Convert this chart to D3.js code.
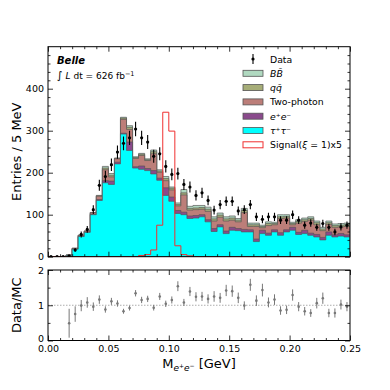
<!DOCTYPE html>
<html><head><meta charset="utf-8">
<script src="https://cdn.jsdelivr.net/npm/d3@7"></script>
<style>body{margin:0;background:#fff} text{font-family:"DejaVu Sans",sans-serif}</style>
</head><body><svg id="c" width="390" height="390"></svg>
<script>
// ---- data (50 bins of 5 MeV from 0 to 0.25 GeV) ----
const binEdges = d3.range(51).map(i => +(i * 0.005).toFixed(3));
const tautau = [0,0,0,3,18,48,58,100,134,176, 172,221,292,253,211,208,205,197,182,146, 132,103,100,91,92,95,83,60,71,55, 63,62,59,59,36,55,51,59,51,59, 63,53,55,51,47,40,51,47,49,47];
const eeBg   = [0,0,0,0,0,0,0,1,2,5, 8,4,2,20,3,8,5,8,5,18, 10,7,6,6,6,5,5,7,5,6, 7,5,6,5,6,8,5,5,6,5, 7,5,8,5,6,6,8,5,6,5];
const twoPhoton = [0,0,0,1,2,3,3,4,8,26, 10,8,33,30,20,25,19,40,14,17, 17,11,41,14,14,13,20,18,18,24, 17,16,40,8,30,6,18,12,34,28, 6,22,21,31,23,16,18,18,16,20];
const qqBg   = [0,0,0,0,0,0,0,0,1,4, 4,1,3,5,2,3,2,5,3,5, 4,3,5,4,4,4,5,5,5,5, 5,4,5,4,4,3,5,3,4,4, 3,4,4,4,5,4,4,4,4,4];
const bbBg   = [0,0,0,0,0,0,0,0,1,4, 4,1,2,4,2,2,2,4,3,5, 3,4,8,5,6,5,5,5,5,5, 5,4,5,4,4,3,4,3,5,4, 3,4,4,4,4,4,4,4,4,4];
const signal5x = [0,0,0,0,0,0,0,0,0,0, 0,0,0,0,0,3,5,16,75,344, 299,26,5,2,0,0,0,0,0,0, 0,0,0,0,0,0,0,0,0,0, 0,0,0,0,0,0,0,0,0,0];
const dataCounts = [0,0,0,2,16,53,65,112,170,191, 219,249,270,283,304,283,273,239,245,215, 196,198,172,166,146,152,134,111,124,132, 132,109,112,124,95,89,95,95,87,87, 100,87,75,80,70,79,70,59,71,75];
const ratio = [null,null,null,0.49,0.75,0.99,1.08,0.96,1.16,0.88, 1.11,1.05,0.83,0.92,1.34,1.15,1.18,0.93,1.25,1.04, 1.15,1.54,1.08,1.39,1.24,1.25,1.18,1.25,1.21,1.42, 1.40,1.21,0.99,1.58,1.13,1.43,1.08,1.16,0.85,0.87, 1.29,0.96,0.83,0.78,1.06,1.20,0.78,0.78,1.02,0.96];
const ratioErr = [null,null,null,0.41,0.22,0.16,0.15,0.12,0.12,0.09, 0.1,0.09,0.07,0.07,0.09,0.09,0.09,0.08,0.1,0.09, 0.1,0.14,0.1,0.13,0.13,0.13,0.13,0.15,0.14,0.16, 0.16,0.15,0.12,0.17,0.15,0.18,0.14,0.15,0.12,0.12, 0.16,0.13,0.12,0.11,0.15,0.16,0.12,0.13,0.14,0.13];
const yTicksMain = [0,100,200,300,400];
const yTicksRatio = [0,1,2];
const xTicks = [0,0.05,0.10,0.15,0.20,0.25];

const layers = [
  {name:"tautau", vals:tautau, fill:"#00ffff"},
  {name:"ee", vals:eeBg, fill:"#8a4a8c"},
  {name:"2g", vals:twoPhoton, fill:"#bc7e79"},
  {name:"qq", vals:qqBg, fill:"#a6ad78"},
  {name:"bb", vals:bbBg, fill:"#b0d9c0"}
];

const svg = d3.select("#c");
const X0=48, X1=350, MT=46.7, MB=256.7, RT=270, RB=340.5;
const x = d3.scaleLinear().domain([0,0.25]).range([X0,X1]);
const y = d3.scaleLinear().domain([0,500]).range([MB,MT]);
const yr = d3.scaleLinear().domain([0,2]).range([RB,RT]);

svg.append("defs").append("clipPath").attr("id","cm").append("rect")
  .attr("x",X0).attr("y",MT).attr("width",X1-X0).attr("height",MB-MT);

const g = svg.append("g").attr("clip-path","url(#cm)");

// stacked histogram
let cum = new Array(50).fill(0);
const stackData = layers.map(L => {
  const hi = cum.map((c,i)=>c+L.vals[i]);
  cum = hi;
  return {L, hi};
});
function stepPts(hi){
  const pts = [];
  for(let i=0;i<50;i++){ pts.push({x:binEdges[i], lo:0, hi:hi[i]}); }
  pts.push({x:binEdges[50], lo:0, hi:hi[49]});
  return pts;
}
const area = d3.area().curve(d3.curveStepAfter).x(d=>x(d.x)).y0(d=>y(d.lo)).y1(d=>y(d.hi));
stackData.slice().reverse().forEach(s=>{
  g.append("path").attr("d", area(stepPts(s.hi))).attr("fill", s.L.fill)
    .attr("stroke","#555").attr("stroke-opacity",0.75).attr("stroke-width",0.9);
});

// signal
const line = d3.line().curve(d3.curveStepAfter).x(d=>x(d.x)).y(d=>y(d.v));
const sigPts = signal5x.map((v,i)=>({x:binEdges[i], v}));
sigPts.push({x:binEdges[50], v:signal5x[49]});
g.append("path").attr("d", line(sigPts)).attr("fill","none").attr("stroke","#f03030").attr("stroke-width",1);

// data points
const centers = binEdges.slice(0,50).map(e=>e+0.0025);
dataCounts.forEach((n,i)=>{
  const cx = x(centers[i]);
  const e = Math.sqrt(n);
  if(n>0) g.append("line").attr("x1",cx).attr("x2",cx).attr("y1",y(n-e)).attr("y2",y(n+e)).attr("stroke","#000").attr("stroke-width",1.1);
  g.append("circle").attr("cx",cx).attr("cy",y(n)).attr("r",1.6).attr("fill","#000");
});

// axes helper
function axes(ys, top, bot, majY, minY, showXLabels, yFmt){
  const ax = svg.append("g");
  ax.append("rect").attr("x",X0).attr("y",top).attr("width",X1-X0).attr("height",bot-top)
    .attr("fill","none").attr("stroke","#000").attr("stroke-width",1);
  const mk = (axis, tr) => { const a = ax.append("g").attr("transform",tr).call(axis); a.select(".domain").remove(); a.selectAll("line").attr("stroke","#000").attr("stroke-width",0.8); a.selectAll("text").attr("font-size",9.5).attr("fill","#000").attr("font-family","DejaVu Sans"); return a;};
  mk(d3.axisLeft(ys).tickValues(majY).tickSize(-5).tickPadding(4).tickFormat(yFmt), `translate(${X0},0)`);
  mk(d3.axisLeft(ys).tickValues(minY).tickSize(-2.5).tickFormat(""), `translate(${X0},0)`);
  mk(d3.axisRight(ys).tickValues(majY).tickSize(-5).tickFormat(""), `translate(${X1},0)`);
  mk(d3.axisRight(ys).tickValues(minY).tickSize(-2.5).tickFormat(""), `translate(${X1},0)`);
  const xminor = d3.range(0,0.2501,0.01).filter(v=>Math.abs(v*20-Math.round(v*20))>1e-6);
  mk(d3.axisBottom(x).tickValues(xTicks).tickSize(-5).tickPadding(5).tickFormat(showXLabels?d3.format(".2f"):""), `translate(0,${bot})`);
  mk(d3.axisBottom(x).tickValues(xminor).tickSize(-2.5).tickFormat(""), `translate(0,${bot})`);
  mk(d3.axisTop(x).tickValues(xTicks).tickSize(-5).tickFormat(""), `translate(0,${top})`);
  mk(d3.axisTop(x).tickValues(xminor).tickSize(-2.5).tickFormat(""), `translate(0,${top})`);
  return ax;
}
axes(y, MT, MB, yTicksMain, d3.range(0,500,20).filter(v=>v%100!==0), false, d3.format("d"));

// ratio panel
const rg = svg.append("g");
rg.append("line").attr("x1",X0).attr("x2",X1).attr("y1",yr(1)).attr("y2",yr(1)).attr("stroke","#999").attr("stroke-width",0.8).attr("stroke-dasharray","1.5,1.5");
ratio.forEach((r,i)=>{
  if(r===null) return;
  const cx = x(centers[i]);
  rg.append("line").attr("x1",cx).attr("x2",cx).attr("y1",yr(r-ratioErr[i])).attr("y2",yr(r+ratioErr[i])).attr("stroke","#777").attr("stroke-width",1);
  rg.append("circle").attr("cx",cx).attr("cy",yr(r)).attr("r",1.3).attr("fill","#777");
});
const rax = axes(yr, RT, RB, yTicksRatio, [0.5,1.5], true, d3.format("d"));
// nudge the ratio "0" label up slightly so it clears the 0.00 label
rax.selectAll("g.tick text").filter(function(){ return this.textContent==="0"; }).attr("dy","0.1em");

// axis titles
svg.append("text").attr("transform",`translate(21,${(MT+MB)/2}) rotate(-90)`).attr("text-anchor","middle")
  .attr("font-size",13).text("Entries / 5 MeV");
svg.append("text").attr("transform",`translate(21,${(RT+RB)/2}) rotate(-90)`).attr("text-anchor","middle")
  .attr("font-size",13).text("Data/MC");
const xl = svg.append("text").attr("x",199).attr("y",368).attr("text-anchor","middle").attr("font-size",13);
xl.append("tspan").text("M");
xl.append("tspan").attr("font-size",9).attr("font-style","italic").attr("dy",3).text("e");
xl.append("tspan").attr("font-size",6).attr("dy",-3).text("+");
xl.append("tspan").attr("font-size",9).attr("font-style","italic").attr("dy",3).text("e");
xl.append("tspan").attr("font-size",6).attr("dy",-3).text("−");
xl.append("tspan").attr("dy",0).text(" [GeV]");

// Belle label
svg.append("text").attr("x",57).attr("y",64).attr("font-size",10).attr("font-weight","bold").attr("font-style","italic").text("Belle");
const lum = svg.append("text").attr("x",57).attr("y",79).attr("font-size",9);
lum.append("tspan").attr("font-size",11).text("∫");
lum.append("tspan").attr("font-style","italic").text(" L");
lum.append("tspan").text(" dt  =  626 fb");
lum.append("tspan").attr("font-size",6.5).attr("dy",-3.5).text("−1");

// legend
const leg = svg.append("g");
const legItems = [
  {t:"Data", type:"data"},
  {t:"BB̄", type:"patch", fill:"#b0d9c0", it:true},
  {t:"qq̄", type:"patch", fill:"#a6ad78", it:true},
  {t:"Two-photon", type:"patch", fill:"#bc7e79"},
  {t:"e⁺e⁻", type:"patch", fill:"#8a4a8c", it:true},
  {t:"τ⁺τ⁻", type:"patch", fill:"#00ffff", it:true},
  {t:"Signal(ξ = 1)x5", type:"sig"}
];
legItems.forEach((d,i)=>{
  const yy = 59 + i*14.3;
  if(d.type==="data"){
    leg.append("line").attr("x1",253).attr("x2",253).attr("y1",yy-5).attr("y2",yy+5).attr("stroke","#000").attr("stroke-width",1.1);
    leg.append("circle").attr("cx",253).attr("cy",yy).attr("r",1.6).attr("fill","#000");
  } else if(d.type==="patch"){
    leg.append("rect").attr("x",243).attr("y",yy-3).attr("width",20).attr("height",6).attr("fill",d.fill).attr("stroke","#555").attr("stroke-width",0.8);
  } else {
    leg.append("rect").attr("x",243).attr("y",yy-3).attr("width",20).attr("height",6).attr("fill","#fff").attr("stroke","#f03030").attr("stroke-width",1);
  }
  const tx = leg.append("text").attr("x",270).attr("y",yy+3.5).attr("font-size",9.3);
  if(d.t==="Signal(ξ = 1)x5"){
    tx.append("tspan").text("Signal(");
    tx.append("tspan").attr("font-style","italic").text("ξ");
    tx.append("tspan").text(" = 1)x5");
  } else tx.attr("font-style", d.it?"italic":"normal").text(d.t);
});
</script></body></html>
